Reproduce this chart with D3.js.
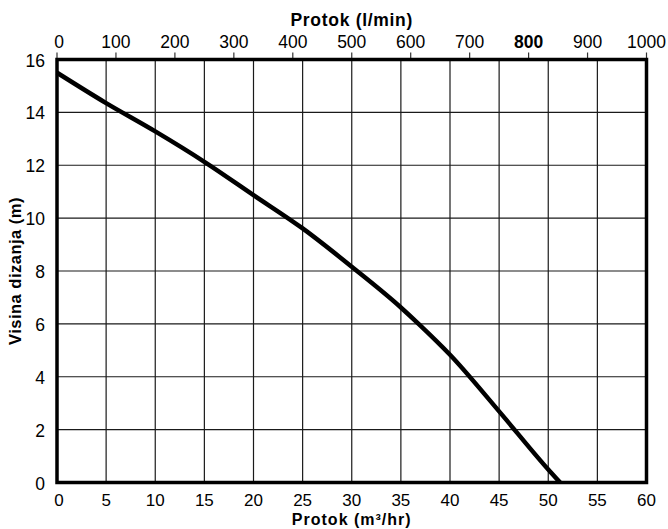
<!DOCTYPE html>
<html>
<head>
<meta charset="utf-8">
<script src="https://cdn.jsdelivr.net/npm/d3@7"></script>
<style>
  body { margin: 0; background: #fff; }
  text { font-family: "Liberation Sans", Arial, sans-serif; fill: #000; }
</style>
</head>
<body>
<svg id="chart" width="668" height="529"></svg>
<script>
// flow in m3/hr vs. head in m
let flow = [0, 5, 10, 15, 20, 25, 30, 35, 36.8, 40, 45, 50, 51.2];
let head = [15.5, 14.35, 13.28, 12.13, 10.87, 9.61, 8.16, 6.62, 6.0, 4.83, 2.69, 0.49, 0];

let bottomTicks = [0, 5, 10, 15, 20, 25, 30, 35, 40, 45, 50, 55, 60];
let topTicks = [0, 100, 200, 300, 400, 500, 600, 700, 800, 900, 1000];
let leftTicks = [0, 2, 4, 6, 8, 10, 12, 14, 16];

let svg = d3.select("svg#chart");
let margin = { "top": 59.5, "right": 21.5, "bottom": 46.5, "left": 57 };
let width = +svg.attr("width");
let height = +svg.attr("height");
let chartWidth = width - margin.left - margin.right;
let chartHeight = height - margin.top - margin.bottom;

let xScale = d3.scaleLinear().domain([0, 60]).range([0, chartWidth]);
let x2Scale = d3.scaleLinear().domain([0, 1000]).range([0, chartWidth]);
let yScale = d3.scaleLinear().domain([0, 16]).range([chartHeight, 0]);

let g = svg.append("g").attr("transform", `translate(${margin.left},${margin.top})`);

// grid
g.selectAll("line.vgrid").data(bottomTicks).join("line")
  .attr("class", "vgrid")
  .attr("x1", d => xScale(d)).attr("x2", d => xScale(d))
  .attr("y1", 0).attr("y2", chartHeight)
  .attr("stroke", "#1a1a1a").attr("stroke-width", 1.2);

g.selectAll("line.hgrid").data(leftTicks).join("line")
  .attr("class", "hgrid")
  .attr("x1", 0).attr("x2", chartWidth)
  .attr("y1", d => yScale(d)).attr("y2", d => yScale(d))
  .attr("stroke", "#1a1a1a").attr("stroke-width", 1.2);

// bottom labels
g.selectAll("text.xlab").data(bottomTicks).join("text")
  .attr("class", "xlab")
  .attr("x", d => xScale(d) + (d == 0 ? 2 : 0))
  .attr("y", chartHeight + 23.5)
  .attr("text-anchor", "middle")
  .attr("font-size", 17)
  .text(d => d);

// left labels
g.selectAll("text.ylab").data(leftTicks).join("text")
  .attr("class", "ylab")
  .attr("x", -12)
  .attr("y", d => yScale(d) + 7)
  .attr("text-anchor", "end")
  .attr("font-size", 17.5)
  .text(d => d);

// top axis with small outward ticks
g.selectAll("line.ttick").data(topTicks).join("line")
  .attr("class", "ttick")
  .attr("x1", d => x2Scale(d)).attr("x2", d => x2Scale(d))
  .attr("y1", 0).attr("y2", -7)
  .attr("stroke", "#333").attr("stroke-width", 1.2);

g.selectAll("text.tlab").data(topTicks).join("text")
  .attr("class", "tlab")
  .attr("x", d => x2Scale(d) + (d == 0 ? 2 : 0))
  .attr("y", -11.5)
  .attr("text-anchor", "middle")
  .attr("font-size", 17.5)
  .attr("font-weight", d => d == 800 ? "bold" : "normal")
  .text(d => d);

// frame
g.append("rect")
  .attr("x", 0).attr("y", 0)
  .attr("width", chartWidth).attr("height", chartHeight)
  .attr("fill", "none").attr("stroke", "#000").attr("stroke-width", 3.5);

// curve
let line = d3.line()
  .x(d => xScale(d[0]))
  .y(d => yScale(d[1]))
  .curve(d3.curveMonotoneX);

g.append("path")
  .datum(flow.map((f, i) => [f, head[i]]))
  .attr("d", line)
  .attr("fill", "none")
  .attr("stroke", "#000")
  .attr("stroke-width", 4.5);

// axis titles
svg.append("text")
  .attr("x", margin.left + chartWidth / 2)
  .attr("y", 26)
  .attr("text-anchor", "middle")
  .attr("font-size", 17.5)
  .attr("letter-spacing", 0.7)
  .attr("font-weight", "bold")
  .text("Protok (l/min)");

svg.append("text")
  .attr("x", margin.left + chartWidth / 2)
  .attr("y", 525)
  .attr("text-anchor", "middle")
  .attr("font-size", 16)
  .attr("letter-spacing", 1)
  .attr("font-weight", "bold")
  .text("Protok (m³/hr)");

svg.append("text")
  .attr("transform", `translate(21,${margin.top + chartHeight / 2}) rotate(-90)`)
  .attr("text-anchor", "middle")
  .attr("font-size", 16.5)
  .attr("letter-spacing", 0.5)
  .attr("font-weight", "bold")
  .text("Visina dizanja (m)");
</script>
</body>
</html>
